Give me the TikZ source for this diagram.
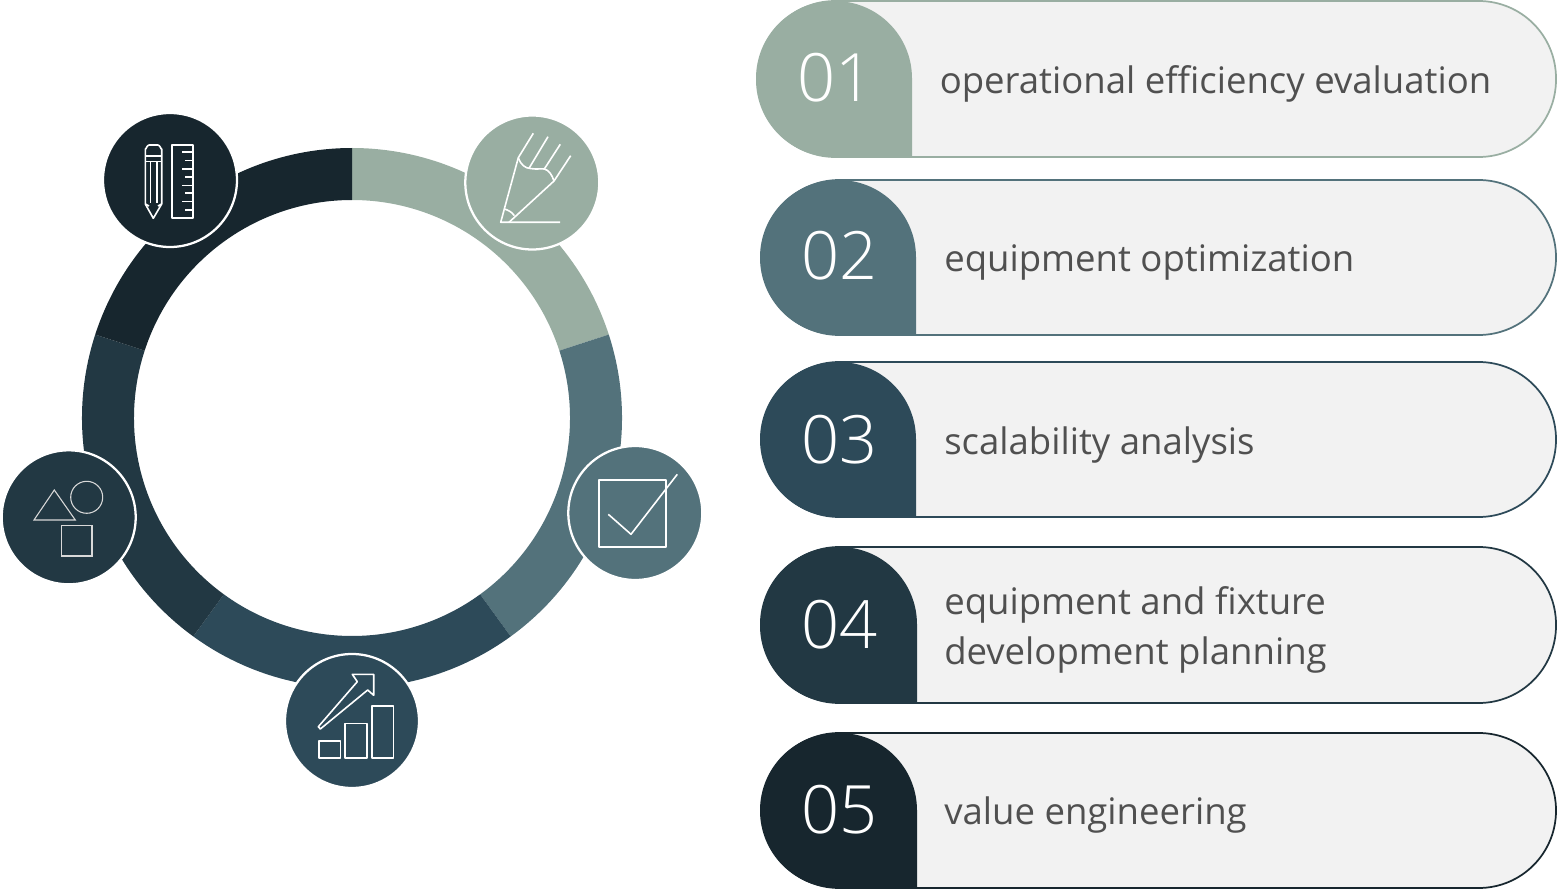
\documentclass[tikz,border=0pt]{standalone}
\usepackage{fontspec}
\setmainfont{Open Sans}
\newfontfamily\numfont{Open Sans Light}
\definecolor{c1}{HTML}{99AEA2}
\definecolor{c2}{HTML}{53727B}
\definecolor{c3}{HTML}{2D4A59}
\definecolor{c4}{HTML}{223843}
\definecolor{c5}{HTML}{17262E}
\definecolor{pillbg}{HTML}{F2F2F2}
\definecolor{txt}{HTML}{505050}
\tikzset{
  badge/.style={circle,minimum size=100.5pt,inner sep=0pt,outer sep=0pt,draw=white,line width=1.7pt,fill=#1},
  ico/.style={draw=white,line width=1.2pt,line join=round},
  icothin/.style={draw=white!85!black,line width=.8pt},
  numtext/.style={anchor=base west,text=white,font=\numfont\fontsize{50}{60}\selectfont,inner sep=0pt},
  lbl/.style={anchor=base west,text=txt,font=\fontsize{27.4}{32}\selectfont,inner sep=0pt}
}
\newcommand{\pill}[5]{%
  % #1 left x, #2 top y, #3 bottom y, #4 teardrop right x, #5 colour
  \draw[draw=#5,line width=1.3pt,fill=pillbg,rounded corners=58pt] (#1+2,#2) -- (1556,#2) -- (1556,#3) -- (#1+2,#3) -- cycle;
  \fill[#5] (#4,#3) [rounded corners=58pt] -- (#1,#3) -- (#1,#2) -- (#4,#2) [sharp corners] -- cycle;
}
\begin{document}
\begin{tikzpicture}[x=.75pt,y=-.75pt]
\useasboundingbox (0,0) rectangle (1557,891);

% ring
\begin{scope}[shift={(352,418)},x=.75pt,y=.75pt]
  \foreach \a/\b/\c in {90/18/c1,18/-54/c2,-54/-126/c3,-126/-198/c4,-198/-270/c5}{
    \fill[\c] (\a:270) arc[start angle=\a,end angle=\b,radius=270] -- (\b:218) arc[start angle=\b,end angle=\a,radius=218] -- cycle;
  }
\end{scope}

% badges
\node[badge=c5] (b5) at (170,180) {};
\node[badge=c1] (b1) at (532.3,182.5) {};
\node[badge=c2] (b2) at (635.3,513) {};
\node[badge=c3] (b3) at (352,721) {};
\node[badge=c4] (b4) at (68.7,517.3) {};

% icon: pencil and ruler
\draw[ico] (145.3,204) -- (145.3,149) to[out=-90,in=180] (149,145) -- (158,145) to[out=0,in=-90] (161.7,149) -- (161.7,204) -- (153.3,218.3) -- cycle;
\draw[ico] (145.3,156) -- (161.7,156) (145.3,161.7) -- (161.7,161.7);
\draw[ico] (150.5,161.7) -- (150.5,203) (156.7,161.7) -- (156.7,203);
\draw[ico] (145.3,204) -- (149,206) (161.7,204) -- (158,206);
\draw[ico] (172,145) rectangle (192.7,218.3);
\draw[ico] (192.7,152.3) -- (181.7,152.3) (192.7,160.7) -- (185,160.7)
  (192.7,169) -- (181.7,169) (192.7,177.3) -- (185,177.3)
  (192.7,185.7) -- (181.7,185.7) (192.7,193.3) -- (185,193.3)
  (192.7,201.7) -- (181.7,201.7) (192.7,210) -- (185,210);

% icon: sketching pencil
\draw[ico] (533.3,133.3) -- (518.3,157.7) -- (500.7,222.3) -- (560,222.3);
\draw[ico] (509,222.3) -- (554,181) -- (570.7,155.7);
\draw[ico] (518.3,157.7) .. controls (521,165) and (525,168.3) .. (531,168.6) .. controls (537,169.5) and (541,168.5) .. (544.3,169) .. controls (549,170) and (552,175) .. (554,181);
\draw[ico] (529,168.3) -- (548,136.7) (544.3,169) -- (560.3,144.3);
\draw[ico] (504.3,209) .. controls (508,210) and (512,212) .. (514.3,215.7);

% icon: check box
\draw[ico] (599,480) rectangle (665.7,547);
\draw[ico] (608.3,514.3) -- (631,534.3) -- (677.3,474.3);

% icon: growth chart
\draw[ico] (319,740.7) rectangle (340.3,758);
\draw[ico] (345,723.3) rectangle (367,758);
\draw[ico] (371.7,706) rectangle (393.3,758);
\draw[ico] (352.3,674.3) -- (373.7,674.3) -- (373.7,695.3) -- (367.7,690) -- (320.3,729) -- (318.3,726.7) -- (357.3,681.7) -- cycle;

% icon: shapes
\draw[icothin] (54.3,490) -- (34,520) -- (75.3,520) -- cycle;
\draw[icothin] (86.7,497.3) circle[radius=12pt];
\draw[icothin] (61.3,525.3) rectangle (92,556);

% pills
\pill{756}{1}{157}{912}{c1}
\pill{760}{180}{335}{916}{c2}
\pill{760}{362}{517}{916}{c3}
\pill{760}{547}{703}{917}{c4}
\pill{760}{733}{888}{917}{c5}

% numbers
\node[numtext] (n1) at (797,102) {01};
\node[numtext] (n2) at (801,280) {02};
\node[numtext] (n3) at (801,463) {03};
\node[numtext] (n4) at (801,648) {04};
\node[numtext] (n5) at (801,833) {05};

% labels
\node[lbl] (t1) at (939.5,94) {operational efficiency evaluation};
\node[lbl] (t2) at (944,272) {equipment optimization};
\node[lbl] (t3) at (944,454) {scalability analysis};
\node[lbl] (t4a) at (944,614) {equipment and fixture};
\node[lbl] (t4b) at (944,664) {development planning};
\node[lbl] (t5) at (944,824) {value engineering};
\end{tikzpicture}
\end{document}
